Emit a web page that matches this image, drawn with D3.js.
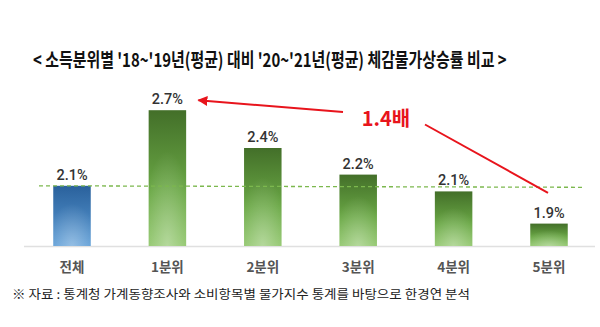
<!DOCTYPE html>
<html><head><meta charset="utf-8">
<script src="https://cdn.jsdelivr.net/npm/d3@7"></script>
<style>
html,body{margin:0;padding:0;background:#fff;}
svg{display:block;}
</style></head>
<body>
<svg id="chart" width="600" height="327"></svg>
<script>
const titleText = "< 소득분위별  '18~'19년(평균) 대비  '20~'21년(평균) 체감물가상승률 비교 >";
const sourceText = "※ 자료 : 통계청 가계동향조사와 소비항목별 물가지수 통계를 바탕으로 한경연 분석";
const categories = ["전체", "1분위", "2분위", "3분위", "4분위", "5분위"];
const values = [2.13, 2.67, 2.40, 2.21, 2.09, 1.86];
const referenceValue = 2.13;
const ratioLabel = "1.4배";

const svg = d3.select("#chart");
const W = 600, H = 327;
svg.append("rect").attr("width", W).attr("height", H).attr("fill", "#fff");

const x = d3.scalePoint().domain(categories).range([72, 549]);
const y = d3.scaleLinear().domain([1.7, 2.7]).range([246, 106]);
const barW = 37.5;

const defs = svg.append("defs");
const gBlue = defs.append("linearGradient").attr("id", "gBlue").attr("x1", 0).attr("y1", 0).attr("x2", 0).attr("y2", 1);
gBlue.append("stop").attr("offset", "0%").attr("stop-color", "#2a619c");
gBlue.append("stop").attr("offset", "100%").attr("stop-color", "#5b9cd6");
const gGreen = defs.append("linearGradient").attr("id", "gGreen").attr("x1", 0).attr("y1", 0).attr("x2", 0).attr("y2", 1);
gGreen.append("stop").attr("offset", "0%").attr("stop-color", "#436f29");
gGreen.append("stop").attr("offset", "60%").attr("stop-color", "#6aa845");
gGreen.append("stop").attr("offset", "100%").attr("stop-color", "#8cc466");
const glow = defs.append("radialGradient").attr("id", "glow").attr("cx", "50%").attr("cy", "100%").attr("r", "70%");
glow.append("stop").attr("offset", "0%").attr("stop-color", "#fff").attr("stop-opacity", 0.35);
glow.append("stop").attr("offset", "100%").attr("stop-color", "#fff").attr("stop-opacity", 0);
const mk = defs.append("marker").attr("id", "arrowHead").attr("viewBox", "0 0 10 10")
  .attr("refX", 9).attr("refY", 5).attr("markerWidth", 5).attr("markerHeight", 5)
  .attr("orient", "auto-start-reverse").attr("markerUnits", "strokeWidth");
mk.append("path").attr("d", "M0,0 L10,5 L0,10 Z").attr("fill", "#e8141c");

// title (condensed horizontally to fit its width)
const titleG = svg.append("g");
const title = titleG.append("text").attr("x", 0).attr("y", 0)
  .attr("font-family", "'Noto Sans CJK KR', sans-serif").attr("font-weight", 700)
  .attr("font-size", 19).attr("fill", "#111")
  .text(titleText);
const natW = title.node().getComputedTextLength() || 474;
titleG.attr("transform", `translate(33,67) scale(${474 / natW},1)`);

// baseline
svg.append("line").attr("x1", 24).attr("x2", 595).attr("y1", y(1.7) + 0.5).attr("y2", y(1.7) + 0.5)
  .attr("stroke", "#e0e0e0").attr("stroke-width", 1.5);

// bars
const bars = svg.append("g");
bars.selectAll("rect.bar").data(categories).join("rect").attr("class", "bar")
  .attr("x", d => x(d) - barW / 2).attr("width", barW)
  .attr("y", (d, i) => y(values[i])).attr("height", (d, i) => y(1.7) - y(values[i]))
  .attr("fill", (d, i) => i === 0 ? "url(#gBlue)" : "url(#gGreen)");
bars.selectAll("rect.glow").data(categories).join("rect").attr("class", "glow")
  .attr("x", d => x(d) - barW / 2).attr("width", barW)
  .attr("y", (d, i) => y(values[i])).attr("height", (d, i) => y(1.7) - y(values[i]))
  .attr("fill", "url(#glow)");

// reference dashed line
svg.append("line").attr("x1", 39).attr("x2", 584)
  .attr("y1", y(referenceValue)).attr("y2", y(referenceValue) + 1.5)
  .attr("stroke", "#7cb84e").attr("stroke-width", 1.3).attr("stroke-dasharray", "4,3");

// value labels
svg.append("g").selectAll("text").data(categories).join("text")
  .attr("x", d => x(d)).attr("y", (d, i) => y(values[i]) - 6)
  .attr("text-anchor", "middle")
  .attr("font-family", "Roboto, sans-serif").attr("font-weight", 500)
  .attr("font-size", 14.5).attr("fill", "#333")
  .text((d, i) => values[i].toFixed(1) + "%");

// category labels
svg.append("g").selectAll("text").data(categories).join("text")
  .attr("x", d => x(d)).attr("y", 272)
  .attr("text-anchor", "middle")
  .attr("font-family", "'Noto Sans CJK KR', sans-serif").attr("font-weight", 700)
  .attr("font-size", 13.5).attr("fill", "#555")
  .text(d => d);

// annotation arrows
const a1 = x(categories[1]) + 31, a1y = y(values[1]) - 10;
svg.append("line").attr("x1", 343).attr("y1", 112).attr("x2", a1).attr("y2", a1y)
  .attr("stroke", "#e8141c").attr("stroke-width", 2).attr("marker-end", "url(#arrowHead)");
svg.append("line").attr("x1", 425).attr("y1", 124.5).attr("x2", x(categories[5]) - 1).attr("y2", y(referenceValue) + 7)
  .attr("stroke", "#e8141c").attr("stroke-width", 2);
svg.append("text").attr("x", 386).attr("y", 126).attr("text-anchor", "middle")
  .attr("font-family", "'Noto Sans CJK KR', sans-serif").attr("font-weight", 700)
  .attr("font-size", 20).attr("fill", "#e8141c")
  .text(ratioLabel);

// source
svg.append("text").attr("x", 12).attr("y", 299)
  .attr("font-family", "'Noto Sans CJK KR', sans-serif").attr("font-weight", 400)
  .attr("font-size", 12.5).attr("fill", "#222")
  .attr("textLength", 458).attr("lengthAdjust", "spacingAndGlyphs")
  .text(sourceText);
</script>
</body></html>
